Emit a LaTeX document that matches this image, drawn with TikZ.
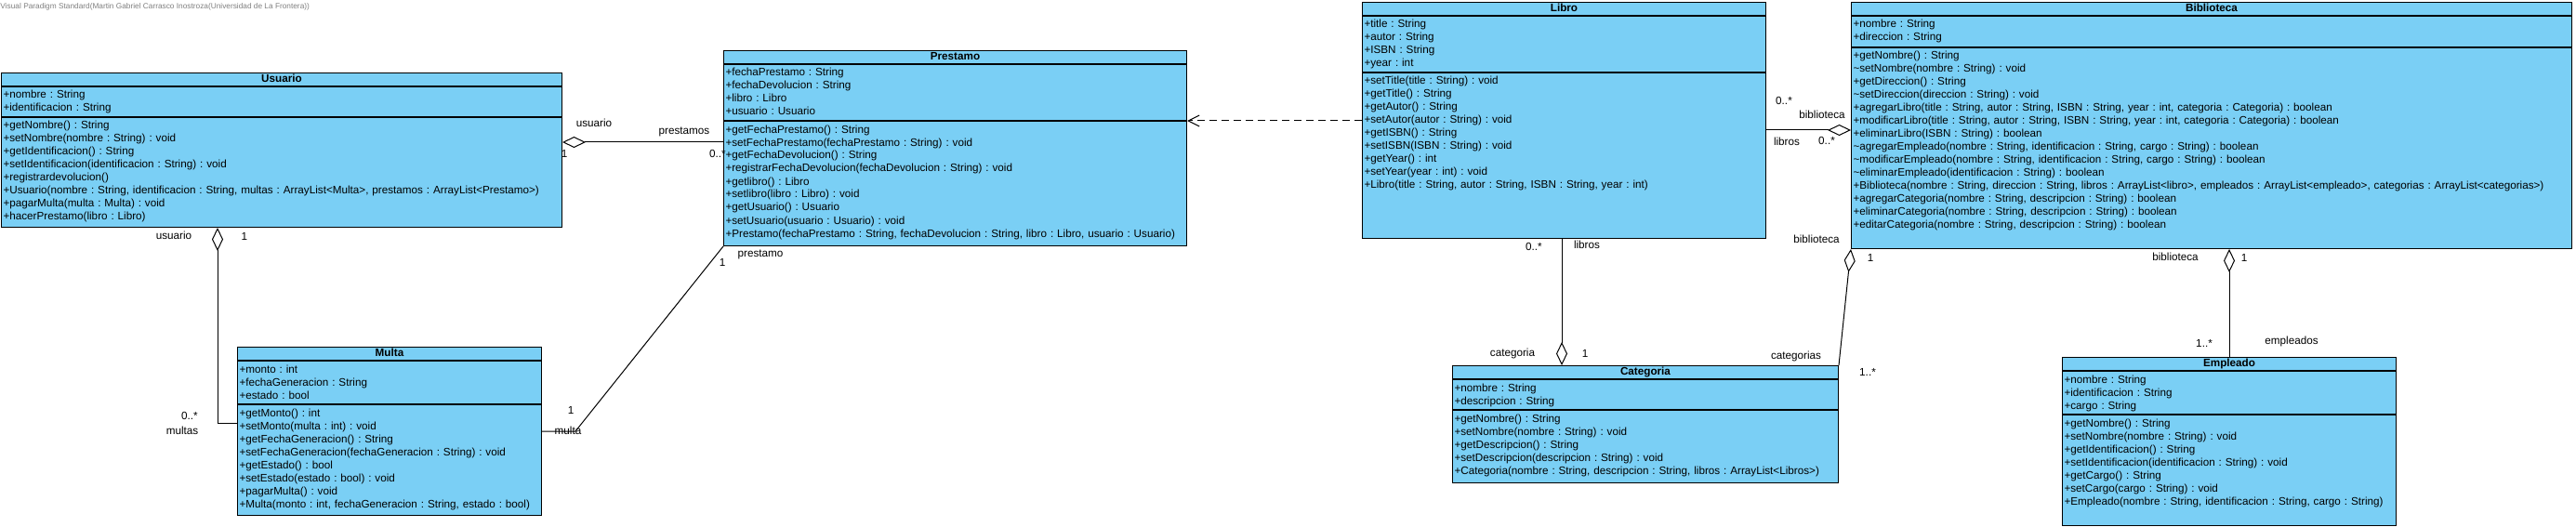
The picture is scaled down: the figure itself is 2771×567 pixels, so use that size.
\documentclass[tikz,border=0pt]{standalone}
\usepackage{fontspec}
\setmainfont{Liberation Sans}
\usetikzlibrary{arrows.meta}
\definecolor{classblue}{RGB}{122,207,245}
\frenchspacing
\tikzset
{
    classname/.style   = {draw=black, fill=classblue, font=\fontsize{11.7}{14}\selectfont\bfseries, inner sep=0pt, text height=9pt, text depth=3pt, minimum height=14pt, anchor=north west},
    classpart/.style   = {draw=black, fill=classblue, align=left, inner xsep=2pt, inner ysep=1.5pt, text height=11pt, anchor=north west},
    role/.style        = {inner sep=0pt},
    aggregation/.style = {-{Diamond[open, length=25pt, width=12pt]}},
    dependency/.style  = {dash pattern=on 8pt off 5pt, -{Straight Barb[length=12pt, width=12pt]}}
}
\begin{document}
\begin{tikzpicture}[x=1pt, y=-1pt, line width=1pt, font=\fontsize{11.7}{14}\selectfont]
\fill [white] (0,0) rectangle (2771,567);
\node [anchor=west, inner sep=0pt, text=black!50, font=\fontsize{8.3}{10}\selectfont] at (0,7) (vpnote) {Visual Paradigm Standard(Martin Gabriel Carrasco Inostroza(Universidad de La Frontera))};

\node [classname, minimum width=603pt] at (1,78) (usuarioT) {Usuario};
\node [classpart, text width=599pt, text depth=18pt] at (usuarioT.south west) (usuarioA) {+nombre : String\\+identificacion : String};
\node [classpart, text width=599pt, text depth=104pt] at (usuarioA.south west) (usuarioM) {+getNombre() : String\\+setNombre(nombre : String) : void\\+getIdentificacion() : String\\+setIdentificacion(identificacion : String) : void\\+registrardevolucion()\\+Usuario(nombre : String, identificacion : String, multas : ArrayList<Multa>, prestamos : ArrayList<Prestamo>)\\+pagarMulta(multa : Multa) : void\\+hacerPrestamo(libro : Libro)};

\node [classname, minimum width=498pt] at (778,54) (prestamoT) {Prestamo};
\node [classpart, text width=494pt, text depth=46pt] at (prestamoT.south west) (prestamoA) {+fechaPrestamo : String\\+fechaDevolucion : String\\+libro : Libro\\+usuario : Usuario};
\node [classpart, text width=494pt, text depth=120pt] at (prestamoA.south west) (prestamoM) {+getFechaPrestamo() : String\\+setFechaPrestamo(fechaPrestamo : String) : void\\+getFechaDevolucion() : String\\+registrarFechaDevolucion(fechaDevolucion : String) : void\\+getlibro() : Libro\\+setlibro(libro : Libro) : void\\+getUsuario() : Usuario\\+setUsuario(usuario : Usuario) : void\\+Prestamo(fechaPrestamo : String, fechaDevolucion : String, libro : Libro, usuario : Usuario)};

\node [classname, minimum width=434pt] at (1465,2) (libroT) {Libro};
\node [classpart, text width=430pt, text depth=46pt] at (libroT.south west) (libroA) {+title : String\\+autor : String\\+ISBN : String\\+year : int};
\node [classpart, text width=430pt, text depth=164pt] at (libroA.south west) (libroM) {+setTitle(title : String) : void\\+getTitle() : String\\+getAutor() : String\\+setAutor(autor : String) : void\\+getISBN() : String\\+setISBN(ISBN : String) : void\\+getYear() : int\\+setYear(year : int) : void\\+Libro(title : String, autor : String, ISBN : String, year : int)};

\node [classname, minimum width=775pt] at (1991,2) (bibliotecaT) {Biblioteca};
\node [classpart, text width=771pt, text depth=19pt] at (bibliotecaT.south west) (bibliotecaA) {+nombre : String\\+direccion : String};
\node [classpart, text width=771pt, text depth=202pt] at (bibliotecaA.south west) (bibliotecaM) {+getNombre() : String\\\textasciitilde setNombre(nombre : String) : void\\+getDireccion() : String\\\textasciitilde setDireccion(direccion : String) : void\\+agregarLibro(title : String, autor : String, ISBN : String, year : int, categoria : Categoria) : boolean\\+modificarLibro(title : String, autor : String, ISBN : String, year : int, categoria : Categoria) : boolean\\+eliminarLibro(ISBN : String) : boolean\\\textasciitilde agregarEmpleado(nombre : String, identificacion : String, cargo : String) : boolean\\\textasciitilde modificarEmpleado(nombre : String, identificacion : String, cargo : String) : boolean\\\textasciitilde eliminarEmpleado(identificacion : String) : boolean\\+Biblioteca(nombre : String, direccion : String, libros : ArrayList<libro>, empleados : ArrayList<empleado>, categorias : ArrayList<categorias>)\\+agregarCategoria(nombre : String, descripcion : String) : boolean\\+eliminarCategoria(nombre : String, descripcion : String) : boolean\\+editarCategoria(nombre : String, descripcion : String) : boolean};

\node [classname, minimum width=327pt] at (255,373) (multaT) {Multa};
\node [classpart, text width=323pt, text depth=32pt] at (multaT.south west) (multaA) {+monto : int\\+fechaGeneracion : String\\+estado : bool};
\node [classpart, text width=323pt, text depth=105pt] at (multaA.south west) (multaM) {+getMonto() : int\\+setMonto(multa : int) : void\\+getFechaGeneracion() : String\\+setFechaGeneracion(fechaGeneracion : String) : void\\+getEstado() : bool\\+setEstado(estado : bool) : void\\+pagarMulta() : void\\+Multa(monto : int, fechaGeneracion : String, estado : bool)};

\node [classname, minimum width=415pt] at (1562,393) (categoriaT) {Categoria};
\node [classpart, text width=411pt, text depth=18pt] at (categoriaT.south west) (categoriaA) {+nombre : String\\+descripcion : String};
\node [classpart, text width=411pt, text depth=64pt] at (categoriaA.south west) (categoriaM) {+getNombre() : String\\+setNombre(nombre : String) : void\\+getDescripcion() : String\\+setDescripcion(descripcion : String) : void\\+Categoria(nombre : String, descripcion : String, libros : ArrayList<Libros>)};

\node [classname, minimum width=359pt] at (2218,384) (empleadoT) {Empleado};
\node [classpart, text width=355pt, text depth=32pt] at (empleadoT.south west) (empleadoA) {+nombre : String\\+identificacion : String\\+cargo : String};
\node [classpart, text width=355pt, text depth=105pt] at (empleadoA.south west) (empleadoM) {+getNombre() : String\\+setNombre(nombre : String) : void\\+getIdentificacion() : String\\+setIdentificacion(identificacion : String) : void\\+getCargo() : String\\+setCargo(cargo : String) : void\\+Empleado(nombre : String, identificacion : String, cargo : String)};

\coordinate (prestamoIn) at ([yshift=-23pt]prestamoM.north west);
\coordinate (multaIn) at ([yshift=-20pt]multaM.north west);
\coordinate (usuarioOut) at ([xshift=233pt]usuarioM.south west);
\coordinate (multaOut) at ([yshift=-29pt]multaM.north east);
\coordinate (libroOut) at ([yshift=-62pt]libroM.north east);
\coordinate (libroDown) at ([xshift=215pt]libroM.south west);

\draw [aggregation] (prestamoIn) -- (prestamoIn -| usuarioM.east);
\draw [aggregation] (multaIn) -| (usuarioOut);
\draw (multaOut) -- ++(36,0) -- (prestamoM.south west);
\draw [dependency] (libroM.west |- prestamoM.north east) -- (prestamoM.north east);
\draw [aggregation] (libroOut) -- (libroOut -| bibliotecaM.west);
\draw [aggregation] (libroDown) -- (libroDown |- categoriaT.north);
\draw [aggregation] (categoriaT.north east) -- (bibliotecaM.south west);
\draw [aggregation] (empleadoT.north) -- (empleadoT.north |- bibliotecaM.south);

\node [role] at (639,132) (upUsuario) {usuario};
\node [role] at (736,142) (upPrestamos) {prestamos};
\node [role] at (607,165) (upOne) {1};
\node [role] at (772,165) (upMany) {0..*};
\node [role] at (187,253) (umUsuario) {usuario};
\node [role] at (263,254) (umOne) {1};
\node [role] at (204,447) (umMany) {0..*};
\node [role] at (196,463) (umMultas) {multas};
\node [role] at (614,441) (mpOne) {1};
\node [role] at (611,463) (mpMulta) {multa};
\node [role] at (777,282) (mpOneB) {1};
\node [role] at (818,274) (mpPrestamo) {prestamo};
\node [role] at (1919,108) (lbMany) {0..*};
\node [role] at (1960,123) (lbBiblioteca) {biblioteca};
\node [role] at (1922,152) (lbLibros) {libros};
\node [role] at (1965,151) (lbManyB) {0..*};
\node [role] at (1650,265) (lcMany) {0..*};
\node [role] at (1707,263) (lcLibros) {libros};
\node [role] at (1627,380) (lcCategoria) {categoria};
\node [role] at (1705,380) (lcOne) {1};
\node [role] at (1954,257) (bcBiblioteca) {biblioteca};
\node [role] at (2012,277) (bcOne) {1};
\node [role] at (1932,383) (bcCategorias) {categorias};
\node [role] at (2009,400) (bcMany) {1..*};
\node [role] at (2340,276) (beBiblioteca) {biblioteca};
\node [role] at (2414,277) (beOne) {1};
\node [role] at (2371,369) (beMany) {1..*};
\node [role] at (2465,367) (beEmpleados) {empleados};
\end{tikzpicture}
\end{document}
